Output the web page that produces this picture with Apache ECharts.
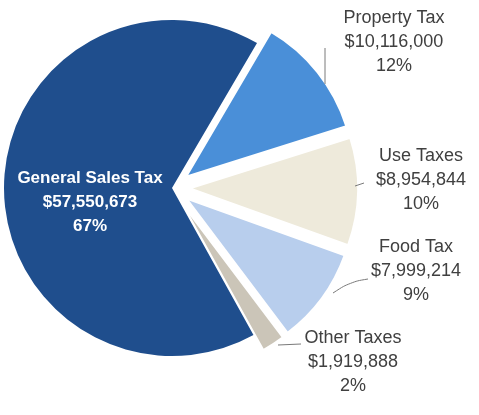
<!DOCTYPE html>
<html>
<head>
<meta charset="utf-8">
<script src="https://cdn.jsdelivr.net/npm/echarts@6/dist/echarts.min.js"></script>
<style>
  html, body { margin: 0; padding: 0; background: #ffffff; }
  #chart { width: 479px; height: 415px; }
</style>
</head>
<body>
<div id="chart"></div>
<script>
// Tax revenue by source
const categories = ['Property Tax', 'Use Taxes', 'Food Tax', 'Other Taxes', 'General Sales Tax'];
const revenues = [10116000, 8954844, 7999214, 1919888, 57550673];
const sliceColors = ['#4a8fd8', '#eeeadb', '#b8ceed', '#cbc5b8', '#1f4e8d'];
const exploded = [true, true, true, true, false];

// label anchor points (centre of the middle text line) per slice
const labelSpots = [
  { x: 394, y: 42 },
  { x: 421, y: 180 },
  { x: 416, y: 271 },
  { x: 353, y: 362 },
  { x: 90, y: 202 }
];

// leader line bends, relative to each label anchor
const leaderPaths = [
  [[-69, 42], [-69, 6]],
  [[-66, 6], [-57, 3]],
  [[-83, 22], [-66, 11], [-48, 8]],
  [[-75, -17], [-52, -18]],
  null
];

const pieCenter = [172, 188];
const pieRadius = 168;
const startAngle = 59.6;

const chart = echarts.init(document.getElementById('chart'), null, { renderer: 'canvas' });

const money = v => '$' + v.toLocaleString('en-US');

// Base layer: the un-exploded slice plus every label and leader line.
const baseData = categories.map((name, i) => {
  const item = {
    name: name,
    value: revenues[i],
    itemStyle: { color: exploded[i] ? 'rgba(0,0,0,0)' : sliceColors[i] }
  };
  if (!exploded[i]) {
    item.label = {
      color: '#ffffff',
      fontWeight: 'bold',
      fontSize: 17,
      lineHeight: 24
    };
    item.labelLine = { show: false };
  }
  if (i === 2) {
    item.labelLine = { smooth: 0.4 };
  }
  return item;
});

// Exploded layer: the pulled-out slices.
const explodedData = categories.map((name, i) => ({
  name: name,
  value: revenues[i],
  selected: exploded[i],
  itemStyle: { color: exploded[i] ? sliceColors[i] : 'rgba(0,0,0,0)' }
}));

chart.setOption({
  animation: false,
  backgroundColor: '#ffffff',
  series: [
    {
      type: 'pie',
      center: pieCenter,
      radius: [0, pieRadius],
      startAngle: startAngle,
      clockwise: true,
      silent: true,
      percentPrecision: 0,
      avoidLabelOverlap: false,
      z: 3,
      itemStyle: { borderWidth: 0 },
      label: {
        show: true,
        position: 'outside',
        fontFamily: 'Liberation Sans, Arial, sans-serif',
        fontSize: 18,
        lineHeight: 24,
        color: '#404040',
        formatter: p => p.name + '\n' + money(p.value) + '\n' + p.percent + '%'
      },
      labelLine: {
        show: true,
        length: 8,
        length2: 8,
        lineStyle: { color: '#7a7a7a', width: 1 }
      },
      labelLayout: params => {
        const spot = labelSpots[params.dataIndex];
        const layout = { x: spot.x, y: spot.y, align: 'center', verticalAlign: 'middle' };
        const path = leaderPaths[params.dataIndex];
        if (path) {
          layout.labelLinePoints = path.map(p => [spot.x + p[0], spot.y + p[1]]);
        }
        return layout;
      },
      data: baseData
    },
    {
      type: 'pie',
      center: pieCenter,
      radius: [0, pieRadius],
      startAngle: startAngle,
      clockwise: true,
      silent: true,
      selectedMode: 'multiple',
      selectedOffset: 18,
      z: 2,
      itemStyle: { borderColor: '#ffffff', borderWidth: 2 },
      select: { itemStyle: { borderColor: '#ffffff', borderWidth: 2 } },
      label: { show: false },
      labelLine: { show: false },
      data: explodedData
    }
  ]
});
</script>
</body>
</html>
